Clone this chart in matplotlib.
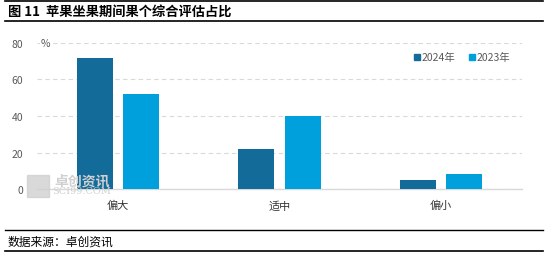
import numpy as np
import matplotlib
matplotlib.use("Agg")
import matplotlib.pyplot as plt
from matplotlib.lines import Line2D
from matplotlib.patches import Rectangle

plt.rcParams["font.family"] = ["Noto Sans CJK SC", "DejaVu Sans"]

TITLE = "图 11  苹果坐果期间果个综合评估占比"
SOURCE = "数据来源：卓创资讯"
categories = ["偏大", "适中", "偏小"]
series_names = ["2024年", "2023年"]
v2024 = [72, 22, 5]
v2023 = [52, 40, 8]
yticks = [0, 20, 40, 60, 80]

DARK = "#136B9A"
LIGHT = "#00A0DC"
GRAY = "#595959"

fig = plt.figure(figsize=(5.46, 2.55), dpi=100)
ax = fig.add_axes([37 / 546, 65 / 255, 485 / 546, 146 / 255])

x = np.arange(len(categories))
w = 0.224
off = 0.031 + w / 2
ax.bar(x - off, v2024, w, color=DARK, zorder=3)
ax.bar(x + off, v2023, w, color=LIGHT, zorder=3)

ax.set_xlim(-0.5, len(categories) - 0.5)
ax.set_ylim(0, 80)
ax.set_yticks(yticks)
ax.set_yticklabels([str(t) for t in yticks], color=GRAY, fontsize=7.5)
ax.set_xticks(x)
ax.set_xticklabels(categories, color="#333333", fontsize=8)
ax.tick_params(axis="both", length=0)
ax.tick_params(axis="y", pad=10)
ax.tick_params(axis="x", pad=8)
for s in ["top", "right", "left"]:
    ax.spines[s].set_visible(False)
ax.spines["bottom"].set_color("#d9d9d9")
ax.spines["bottom"].set_linewidth(1)
ax.yaxis.grid(True, color="#d9d9d9", linestyle=(0, (4, 3)), linewidth=0.8)
ax.set_axisbelow(True)

ax.text(0.008, 80, "%", color=GRAY, fontsize=7.5, va="center", ha="left",
        transform=ax.get_yaxis_transform(), zorder=4,
        bbox=dict(facecolor="white", edgecolor="none", pad=0.5))

handles = [Line2D([], [], marker="s", ls="none", color=c, markersize=4.5)
           for c in (DARK, LIGHT)]
ax.legend(handles, series_names, loc="upper right", bbox_to_anchor=(0.995, 1.0),
          ncol=2, frameon=False, fontsize=7.5, labelcolor=GRAY,
          handletextpad=0.05, columnspacing=1.2, handlelength=0.8)

# watermark
fig.patches.append(Rectangle((27 / 546, 57 / 255), 22 / 546, 22 / 255,
                             transform=fig.transFigure, color="#d0d0d0",
                             alpha=0.8, zorder=0))
fig.text(54 / 546, 74 / 255, "卓创资讯", color="#d0d0d0", fontsize=10,
         fontweight="bold", va="center", ha="left")
fig.text(52 / 546, 63 / 255, "SCI99.COM", color="#d0d0d0", fontsize=7,
         family="DejaVu Serif", va="center", ha="left")

# header / footer
fig.add_artist(Line2D([0.01, 0.995], [1 - 1.5 / 255] * 2, color="black", lw=1.2))
fig.add_artist(Line2D([0.01, 0.995], [1 - 22 / 255] * 2, color="black", lw=1.2))
fig.text(8 / 546, 1 - 12 / 255, TITLE, fontsize=9.5, fontweight="bold",
         va="center", ha="left", color="black")
fig.add_artist(Line2D([0.01, 0.995], [1 - 231 / 255] * 2, color="black", lw=1.0))
fig.add_artist(Line2D([0.01, 0.995], [1 - 252 / 255] * 2, color="black", lw=1.2))
fig.text(8 / 546, 1 - 242 / 255, SOURCE, fontsize=8.5, va="center", ha="left",
         color="black")

fig.savefig("out.png", dpi=100)
